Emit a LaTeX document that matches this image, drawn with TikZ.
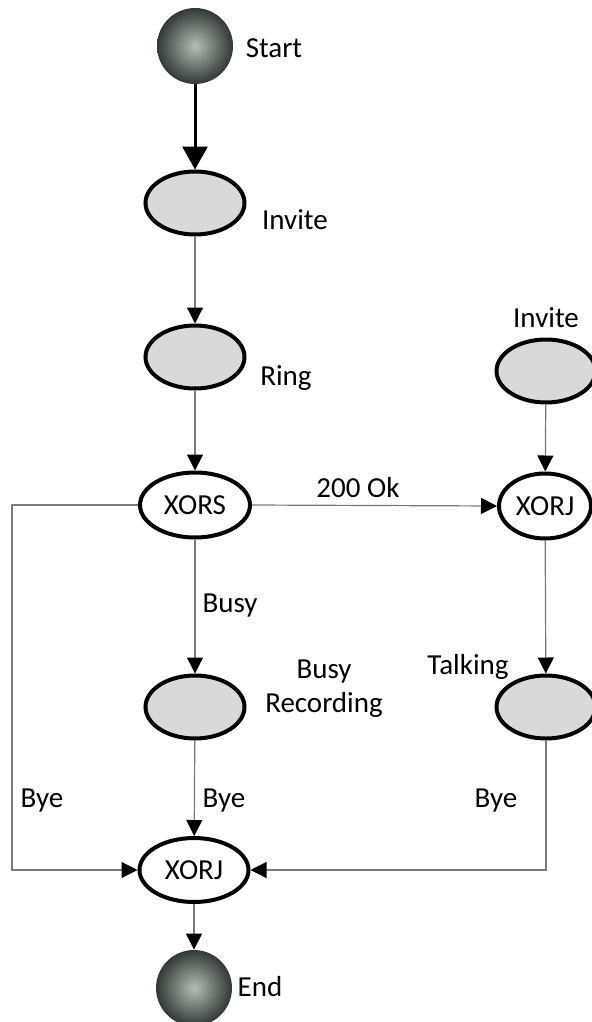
\documentclass[tikz,border=0pt]{standalone}
\usepackage{fontspec}
\setmainfont{Carlito}
\usetikzlibrary{shapes.geometric,arrows.meta}
\definecolor{statefill}{HTML}{D9D9D9}
\definecolor{balldark}{HTML}{323835}
\definecolor{balllight}{HTML}{B4BDB8}
\definecolor{linegray}{HTML}{7A7A7A}
\begin{document}
\begin{tikzpicture}[x=0.5pt,y=-0.5pt,
  every node/.style={font=\fontsize{14.5}{17}\selectfont},
  state/.style={ellipse, draw=black, line width=2pt, fill=statefill, minimum width=49.5pt, minimum height=31.5pt, inner sep=0pt},
  gate/.style={ellipse, draw=black, line width=2pt, fill=white, minimum width=55pt, minimum height=32.5pt, inner sep=0pt},
  term/.style={circle, minimum size=38pt, inner sep=0pt, inner color=balllight, outer color=balldark},
  lbl/.style={inner sep=0pt},
  conn/.style={draw=linegray, line width=0.6pt, -{Triangle[length=8pt,width=8pt,color=black]}},
  thick conn/.style={draw=black, line width=1.5pt, -{Triangle[length=11.5pt,width=12.5pt,color=black]}}
]
\useasboundingbox (0,0) rectangle (591,1022);
% nodes
\node[term] (start) at (195,46) {};
\node[state] (inv1) at (195,203) {};
\node[state] (ring) at (195,357) {};
\node[gate] (xors) at (195,505) {XORS};
\node[state] (inv2) at (546,371) {};
\node[gate, minimum width=46pt] (xorj1) at (545,506) {XORJ};
\node[state] (busy) at (195,707) {};
\node[state] (talk) at (546,707) {};
\node[gate, minimum width=54.5pt, minimum height=32pt] (xorj2) at (194,870) {XORJ};
\node[term] (end) at (194,988) {};
\coordinate (lft) at (12,870);
% labels
\node[lbl] (lstart) at (274,48) {Start};
\node[lbl] (linv1) at (295,220) {Invite};
\node[lbl] (lring) at (286,378) {Ring};
\node[lbl] (lok) at (358,488) {200 Ok};
\node[lbl] (linv2) at (546,318) {Invite};
\node[lbl] (lbusy) at (230,606) {Busy};
\node[lbl, align=center] (lbusyrec) at (324,689) {Busy\\Recording};
\node[lbl] (ltalk) at (468,667) {Talking};
\node[lbl] (lbye1) at (42,801) {Bye};
\node[lbl] (lbye2) at (224,801) {Bye};
\node[lbl] (lbye3) at (496,801) {Bye};
\node[lbl] (lend) at (260,987) {End};
% connectors
\draw[thick conn] (start) -- (inv1);
\draw[conn] (inv1) -- (ring);
\draw[conn] (ring) -- (xors);
\draw[conn] (xors.east) -- (xorj1.west);
\draw[conn] (xors.west) -| (lft) -- (xorj2.west);
\draw[conn] (inv2) -- (xorj1);
\draw[conn] (xorj1) -- (talk);
\draw[conn] (xors) -- (busy);
\draw[conn] (busy) -- (xorj2);
\draw[conn] (talk.south) |- (xorj2.east);
\draw[conn] (xorj2) -- (end);
\end{tikzpicture}
\end{document}
